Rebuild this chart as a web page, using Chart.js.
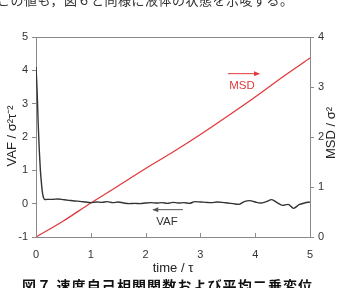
<!DOCTYPE html>
<html>
<head>
<meta charset="utf-8">
<script src="https://cdn.jsdelivr.net/npm/chart.js@4/dist/chart.umd.min.js"></script>
<style>
  html, body { margin: 0; padding: 0; background: #fff; }
  #wrap { position: relative; width: 346px; height: 288px; overflow: hidden; }
  #chart { position: absolute; left: 0; top: 0; }
  .jp { position: absolute; white-space: nowrap; font-family: "Noto Sans CJK JP", sans-serif; }
  #topText { left: -3px; top: -7px; font-size: 13px; line-height: 14px; color: #333; letter-spacing: 0.5px; }
  #caption { left: 22px; top: 278px; font-size: 14px; line-height: 14px; font-weight: bold; color: #111; letter-spacing: 1.1px; }
</style>
</head>
<body>
<div id="wrap">
  <canvas id="chart" width="346" height="288"></canvas>
  <div class="jp" id="topText">この値も，図６と同様に液体の状態を示唆する。</div>
  <div class="jp" id="caption">図７ 速度自己相関関数および平均二乗変位</div>
</div>
<script>
// velocity autocorrelation (left axis)
const vafTime = [0, 0.02, 0.04, 0.06, 0.08, 0.1, 0.12, 0.14, 0.16, 0.2, 0.3, 0.4, 0.5, 0.6, 0.7, 0.8, 0.9, 1.0,
  1.1, 1.2, 1.3, 1.4, 1.5, 1.6, 1.7, 1.8, 1.9, 2.0, 2.1, 2.2, 2.3, 2.4, 2.5, 2.6, 2.7, 2.8, 2.9, 3.0,
  3.1, 3.2, 3.3, 3.4, 3.5, 3.6, 3.7, 3.8, 3.9, 4.0, 4.1, 4.2, 4.3, 4.4, 4.5, 4.6, 4.7, 4.8, 4.9, 5.0];
const vafValues = [4.1, 3.4, 2.4, 1.6, 1.0, 0.6, 0.3, 0.17, 0.12, 0.13, 0.13, 0.14, 0.12, 0.1, 0.08, 0.07, 0.05, 0.03,
  0.05, 0.04, 0.06, 0.03, 0.05, 0.02, 0.0, 0.01, 0.0, 0.02, 0.03, 0.02, 0.03, 0.01, 0.04, 0.02, 0.03, 0.01, 0.06, 0.05,
  0.04, 0.03, 0.05, 0.04, 0.02, 0.0, -0.02, 0.06, 0.09, 0.05, 0.02, 0.06, 0.12, 0.03, -0.05, -0.02, -0.14, -0.03, 0.02, 0.05];

// mean square displacement (right axis)
const msdTime = [0, 0.5, 1.0, 1.5, 2.0, 2.5, 3.0, 3.5, 4.0, 4.5, 5.0];
const msdValues = [0, 0.32, 0.68, 1.02, 1.37, 1.7, 2.05, 2.42, 2.8, 3.2, 3.58];

const xTicks = [0, 1, 2, 3, 4, 5];
const vafTicks = [-1, 0, 1, 2, 3, 4, 5];
const msdTicks = [0, 1, 2, 3, 4];

// label positions in data units (x: time, y: VAF axis)
const msdLabel = { text: "MSD", arrowFrom: [3.5, 3.9], arrowTo: [4.07, 3.9], at: [3.76, 3.55] };
const vafLabel = { text: "VAF", arrowFrom: [2.68, -0.18], arrowTo: [2.14, -0.18], at: [2.39, -0.54] };

const FONT = "'Liberation Sans', Arial, sans-serif";
const AXIS_COLOR = "#8a8a8a";

function drawArrow(ctx, x1, y1, x2, y2, color) {
  ctx.save();
  ctx.strokeStyle = color;
  ctx.fillStyle = color;
  ctx.lineWidth = 1;
  ctx.beginPath();
  ctx.moveTo(x1, y1);
  ctx.lineTo(x2, y2);
  ctx.stroke();
  const dir = Math.sign(x2 - x1);
  ctx.beginPath();
  ctx.moveTo(x2 + dir * 1, y2);
  ctx.lineTo(x2 - dir * 5, y2 - 2.5);
  ctx.lineTo(x2 - dir * 5, y2 + 2.5);
  ctx.closePath();
  ctx.fill();
  ctx.restore();
}

const decorations = {
  id: "decorations",
  afterDraw(chart) {
    const { ctx, chartArea: a, scales } = chart;
    const x = scales.x, y = scales.y;
    ctx.save();
    // top border
    ctx.strokeStyle = AXIS_COLOR;
    ctx.lineWidth = 1;
    ctx.beginPath();
    ctx.moveTo(a.left, a.top + 0.5);
    ctx.lineTo(a.right, a.top + 0.5);
    ctx.stroke();
    // x ticks pointing inward
    xTicks.forEach(v => {
      const px = Math.round(x.getPixelForValue(v)) + 0.5;
      ctx.beginPath();
      ctx.moveTo(px, a.bottom);
      ctx.lineTo(px, a.bottom - 4);
      ctx.stroke();
    });

    // axis titles
    ctx.fillStyle = "#222";
    ctx.font = "13px " + FONT;
    ctx.textAlign = "center";
    ctx.textBaseline = "middle";
    ctx.fillText("time / τ", 173, 268);

    ctx.save();
    ctx.translate(12, 136);
    ctx.rotate(-Math.PI / 2);
    ctx.fillText("VAF / σ²τ⁻²", 0, 0);
    ctx.restore();

    ctx.save();
    ctx.translate(331, 133);
    ctx.rotate(-Math.PI / 2);
    ctx.fillText("MSD / σ²", 0, 0);
    ctx.restore();

    // series labels
    const RED = "#e03a3e";
    drawArrow(ctx, x.getPixelForValue(msdLabel.arrowFrom[0]), y.getPixelForValue(msdLabel.arrowFrom[1]),
      x.getPixelForValue(msdLabel.arrowTo[0]), y.getPixelForValue(msdLabel.arrowTo[1]), RED);
    ctx.fillStyle = RED;
    ctx.font = "11.5px " + FONT;
    ctx.fillText(msdLabel.text, x.getPixelForValue(msdLabel.at[0]), y.getPixelForValue(msdLabel.at[1]));

    drawArrow(ctx, x.getPixelForValue(vafLabel.arrowFrom[0]), y.getPixelForValue(vafLabel.arrowFrom[1]),
      x.getPixelForValue(vafLabel.arrowTo[0]), y.getPixelForValue(vafLabel.arrowTo[1]), "#555");
    ctx.fillStyle = "#333";
    ctx.fillText(vafLabel.text, x.getPixelForValue(vafLabel.at[0]), y.getPixelForValue(vafLabel.at[1]));
    ctx.restore();
  }
};

const tickFont = { family: FONT, size: 11 };

new Chart(document.getElementById("chart"), {
  type: "line",
  data: {
    datasets: [
      {
        label: "VAF",
        data: vafTime.map((t, i) => ({ x: t, y: vafValues[i] })),
        yAxisID: "y",
        borderColor: "#333",
        borderWidth: 1.4,
        pointRadius: 0,
        cubicInterpolationMode: "monotone",
      },
      {
        label: "MSD",
        data: msdTime.map((t, i) => ({ x: t, y: msdValues[i] })),
        yAxisID: "y2",
        borderColor: "#e03a3e",
        borderWidth: 1.3,
        pointRadius: 0,
        tension: 0.3,
      },
    ],
  },
  options: {
    responsive: false,
    animation: false,
    layout: { padding: { top: 37, left: 0, right: 0, bottom: 0 } },
    plugins: { legend: { display: false }, tooltip: { enabled: false } },
    scales: {
      x: {
        type: "linear",
        min: 0, max: 5,
        afterFit: s => { s.height = 51; },
        afterBuildTicks: s => { s.ticks = xTicks.map(v => ({ value: v })); },
        grid: { display: true, drawOnChartArea: false, drawTicks: false, color: AXIS_COLOR },
        border: { display: true, color: AXIS_COLOR },
        ticks: { font: tickFont, color: "#333", padding: 11, maxRotation: 0 },
      },
      y: {
        position: "left",
        min: -1, max: 5,
        afterFit: s => { s.width = 36; },
        afterBuildTicks: s => { s.ticks = vafTicks.map(v => ({ value: v })); },
        grid: { drawOnChartArea: false, drawTicks: true, tickLength: 4, color: AXIS_COLOR },
        border: { display: true, color: AXIS_COLOR },
        ticks: { font: tickFont, color: "#333", padding: 4 },
      },
      y2: {
        position: "right",
        min: 0, max: 4,
        afterFit: s => { s.width = 36; },
        afterBuildTicks: s => { s.ticks = msdTicks.map(v => ({ value: v })); },
        grid: { drawOnChartArea: false, drawTicks: true, tickLength: 4, color: AXIS_COLOR },
        border: { display: true, color: AXIS_COLOR },
        ticks: { font: tickFont, color: "#333", padding: 4 },
      },
    },
  },
  plugins: [decorations],
});
</script>
</body>
</html>
